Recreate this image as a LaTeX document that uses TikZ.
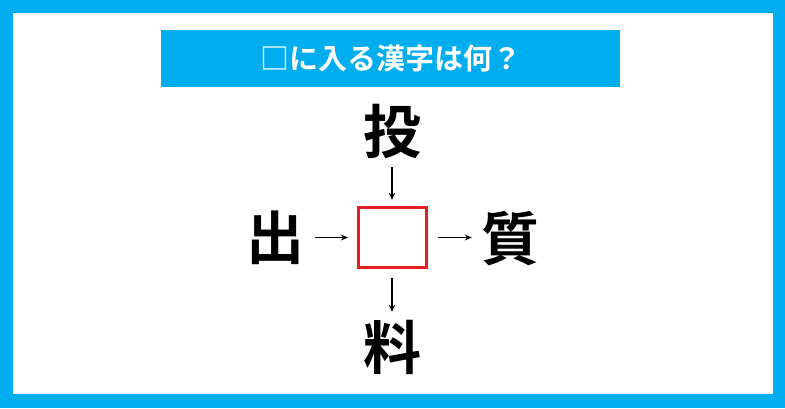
\documentclass[tikz,border=0pt]{standalone}
\usepackage{fontspec}
\newfontfamily\cjk{Noto Sans CJK JP}[BoldFont={Noto Sans CJK JP Bold}]
\usetikzlibrary{arrows.meta}
\definecolor{frameblue}{HTML}{00AEEF}
\definecolor{boxred}{HTML}{E41E20}
\tikzset{
  kanji/.style={inner sep=0pt, minimum width=60pt, minimum height=60pt, font=\cjk\bfseries\fontsize{58}{58}\selectfont, text=black},
  conn/.style={line width=1.2pt, -{Stealth[length=7pt,width=6pt]}},
  answerbox/.style={draw=boxred, line width=3.2pt, minimum width=68pt, minimum height=60pt, inner sep=0pt},
  titlebar/.style={fill=frameblue, minimum width=459pt, minimum height=57pt, inner sep=0pt, text=white, font=\cjk\bfseries\fontsize{29}{29}\selectfont}
}
\begin{document}
\begin{tikzpicture}[x=1pt,y=-1pt]
\useasboundingbox (0,0) rectangle (785,408);
\fill[frameblue] (0,0) rectangle (785,408);
\fill[white] (12.5,12.5) rectangle (772.5,394);
\node[titlebar] (title) at (390.5,58.5) {□に入る漢字は何？};
\node[answerbox] (box) at (392.5,237.5) {};
\node[kanji] (top) at (392,131) {投};
\node[kanji] (left) at (275,238) {出};
\node[kanji] (right) at (510,239) {質};
\node[kanji] (bottom) at (392,347) {料};
\draw[conn, shorten <=6pt, shorten >=6pt] (top.south) -- (top.south |- box.north);
\draw[conn, shorten <=10pt, shorten >=9pt] (left.east |- box.west) -- (box.west);
\draw[conn, shorten <=10pt, shorten >=8pt] (box.east) -- (right.west |- box.east);
\draw[conn, shorten <=9pt, shorten >=5pt] (bottom.north |- box.south) -- (bottom.north);
\end{tikzpicture}
\end{document}
